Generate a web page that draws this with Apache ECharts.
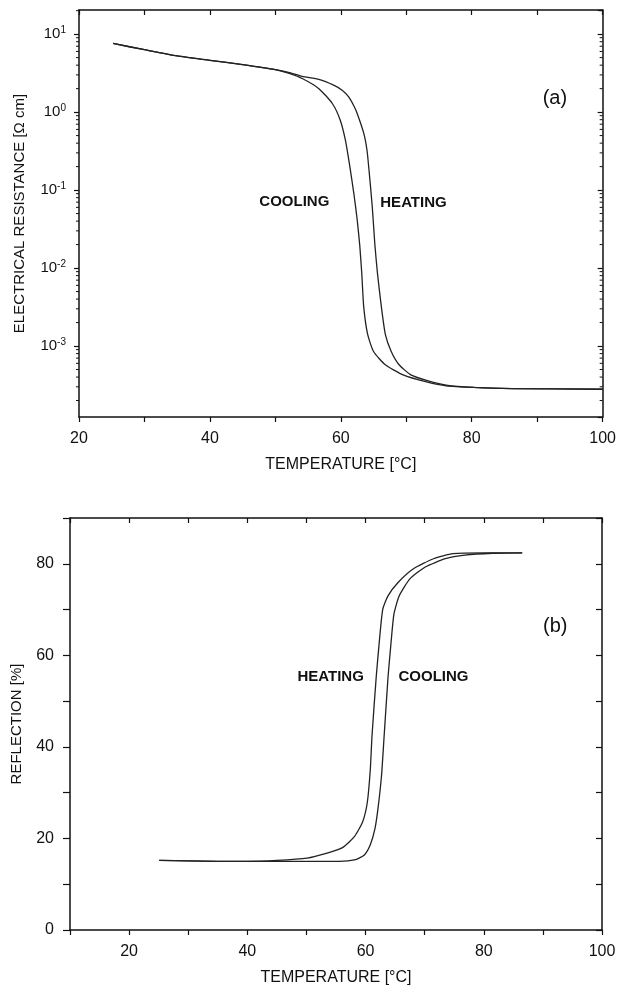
<!DOCTYPE html>
<html>
<head>
<meta charset="utf-8">
<script src="https://cdn.jsdelivr.net/npm/echarts@6/dist/echarts.min.js"></script>
<style>
  html, body { margin: 0; padding: 0; background: #fff; }
  #main { width: 619px; height: 992px; }
</style>
</head>
<body>
<div id="main"></div>
<script>
// (a) electrical resistance vs temperature
var tempCoolA = [25.2, 30, 35, 40, 45, 50, 52, 54.1, 56.65, 58.7, 59.9, 60.7, 61.3, 62.0, 62.5, 62.9, 63.2, 63.5, 64.1, 65.0, 66.8, 69.5, 73.1, 76.1, 80.3, 86.2, 100];
var resCoolA = [7.59, 6.31, 5.25, 4.62, 4.07, 3.51, 3.16, 2.70, 2.00, 1.29, 0.794, 0.437, 0.220, 0.089, 0.0417, 0.0191, 0.00851, 0.00316, 0.00141, 0.000851, 0.000575, 0.000427, 0.000347, 0.000309, 0.000295, 0.000285, 0.000279];
var tempHeatA = [25.2, 30, 35, 40, 45, 50, 52, 54.1, 56.65, 58.9, 60.2, 61.2, 62.0, 62.5, 63.5, 64.0, 64.3, 64.8, 65.2, 65.6, 66.2, 66.8, 67.7, 68.9, 70.7, 73.1, 76.1, 80.3, 86.2, 100];
var resHeatA = [7.59, 6.31, 5.25, 4.62, 4.07, 3.51, 3.24, 2.88, 2.63, 2.22, 1.91, 1.57, 1.20, 0.962, 0.537, 0.324, 0.182, 0.0617, 0.0200, 0.00851, 0.00316, 0.00141, 0.000851, 0.000575, 0.000427, 0.000363, 0.000316, 0.000295, 0.000285, 0.000279];

// (b) reflection vs temperature
var tempHeatB = [25.1, 30, 35, 40, 45, 50.1, 53.5, 56.1, 58.1, 59.5, 60.3, 60.8, 61.1, 61.8, 62.3, 62.9, 63.8, 65.5, 68.1, 71.5, 74.8, 80, 86.5];
var reflHeatB = [15.2, 15.1, 15.0, 15.0, 15.2, 15.7, 16.8, 18.0, 20.4, 23.6, 27.9, 35.0, 42.6, 55.2, 62.6, 70.0, 73.0, 75.9, 78.9, 81.1, 82.2, 82.4, 82.4];
var tempCoolB = [25.1, 30, 35, 40, 45, 50, 55.5, 58.1, 59.8, 60.8, 61.6, 62.1, 62.7, 63.1, 63.8, 64.3, 64.8, 65.7, 67.5, 70.1, 73.5, 76.8, 81.5, 86.5];
var reflCoolB = [15.2, 15.1, 15.0, 15.0, 15.0, 15.0, 15.0, 15.3, 16.4, 18.6, 22.2, 26.5, 33.7, 41.5, 55.2, 62.6, 69.0, 73.0, 76.7, 79.3, 81.1, 81.9, 82.3, 82.4];

// text labels placed in data coordinates
var notesA = [['COOLING', 52.9, 0.070], ['HEATING', 71.1, 0.068], ['(a)', 92.7, 1.51]];
var notesB = [['HEATING', 54.1, 55.2], ['COOLING', 71.5, 55.2], ['(b)', 92.1, 66.3]];

// log minor ticks for the resistance axis
var decadesA = [1e-4, 1e-3, 1e-2, 1e-1, 1, 10];
var minorMult = [2, 3, 4, 5, 6, 7, 8, 9];

var FONT = "'Liberation Sans', Arial, sans-serif";
var INK = '#111';
var CURVE = '#222';

function pairs(xs, ys) {
  return xs.map(function (x, i) { return [x, ys[i]]; });
}

var minorA = [];
decadesA.forEach(function (d) {
  minorMult.forEach(function (m) {
    var v = d * m;
    if (v > 1.23e-4 && v < 20.4) minorA.push([20, v]);
  });
});

var chart = echarts.init(document.getElementById('main'), null, { renderer: 'canvas' });

function lineSeries(xi, yi, data) {
  return {
    type: 'line',
    xAxisIndex: xi,
    yAxisIndex: yi,
    data: data,
    smooth: 0.2,
    showSymbol: false,
    symbol: 'none',
    lineStyle: { color: CURVE, width: 1.3 },
    silent: true,
    z: 3
  };
}

function noteSeries(xi, yi, notes) {
  return {
    type: 'scatter',
    xAxisIndex: xi,
    yAxisIndex: yi,
    symbolSize: 0,
    silent: true,
    itemStyle: { opacity: 1, color: INK },
    data: notes.map(function (n) { return { name: n[0], value: [n[1], n[2]] }; }),
    label: {
      show: true,
      position: 'inside',
      color: INK,
      opacity: 1,
      textBorderWidth: 0,
      formatter: function (p) {
        return p.name.charAt(0) === '(' ? '{p|' + p.name + '}' : '{w|' + p.name + '}';
      },
      rich: {
        w: { fontFamily: FONT, fontWeight: 'bold', fontSize: 15, color: INK, opacity: 1 },
        p: { fontFamily: FONT, fontSize: 20, color: INK, opacity: 1 }
      }
    }
  };
}

var tickX = function (inside, labels, gi, pos, min, lblSize) {
  return {
    type: 'value',
    gridIndex: gi,
    position: pos,
    min: min,
    max: 100,
    interval: 10,
    axisLine: { show: true, onZero: false, lineStyle: { color: INK, width: 1.5 } },
    axisTick: { show: true, inside: inside, length: 5, lineStyle: { color: INK, width: 1.2 } },
    splitLine: { show: false },
    axisLabel: {
      show: labels,
      margin: 14,
      color: INK,
      fontFamily: FONT,
      fontSize: lblSize,
      formatter: function (v) { return v % 20 === 0 ? String(v) : ''; }
    }
  };
};

var option = {
  backgroundColor: '#fff',
  animation: false,
  grid: [
    { left: 79, right: 14, top: 10, bottom: 575 },
    { left: 70, right: 17, top: 518, bottom: 62 }
  ],
  xAxis: [
    Object.assign(tickX(false, true, 0, 'bottom', 20, 16), {
      name: 'TEMPERATURE [°C]', nameLocation: 'middle', nameGap: 40,
      nameTextStyle: { fontFamily: FONT, fontSize: 16, color: INK }
    }),
    tickX(true, false, 0, 'top', 20, 16),
    Object.assign(tickX(false, true, 1, 'bottom', 10, 16), {
      name: 'TEMPERATURE [°C]', nameLocation: 'middle', nameGap: 40,
      nameTextStyle: { fontFamily: FONT, fontSize: 16, color: INK }
    }),
    tickX(true, false, 1, 'top', 10, 16)
  ],
  yAxis: [
    {
      type: 'log', gridIndex: 0, position: 'left', logBase: 10,
      min: 1.23e-4, max: 20.4,
      name: 'ELECTRICAL RESISTANCE [\u03a9 cm]', nameLocation: 'middle', nameGap: 52,
      nameTextStyle: { fontFamily: FONT, fontSize: 15, color: INK },
      axisLine: { show: true, lineStyle: { color: INK, width: 1.5 } },
      axisTick: { show: true, length: 5, lineStyle: { color: INK, width: 1.2 } },
      splitLine: { show: false },
      axisLabel: {
        margin: 13, color: INK, showMinLabel: false, showMaxLabel: false,
        formatter: function (v) {
          var e = Math.round(Math.log(v) / Math.LN10);
          return '{b|10}{s|' + e + '}';
        },
        rich: {
          b: { fontFamily: FONT, fontSize: 15, color: INK },
          s: { fontFamily: FONT, fontSize: 10, color: INK, padding: [0, 0, 8, 0] }
        }
      }
    },
    {
      type: 'log', gridIndex: 0, position: 'right', logBase: 10,
      min: 1.23e-4, max: 20.4,
      axisLine: { show: true, lineStyle: { color: INK, width: 1.5 } },
      axisTick: { show: true, inside: true, length: 5, lineStyle: { color: INK, width: 1.2 } },
      splitLine: { show: false },
      axisLabel: { show: false }
    },
    {
      type: 'value', gridIndex: 1, position: 'left', min: 0, max: 90, interval: 10,
      name: 'REFLECTION [%]', nameLocation: 'middle', nameGap: 46,
      nameTextStyle: { fontFamily: FONT, fontSize: 15, color: INK },
      axisLine: { show: true, lineStyle: { color: INK, width: 1.5 } },
      axisTick: { show: true, length: 7, lineStyle: { color: INK, width: 1.2 } },
      splitLine: { show: false },
      axisLabel: {
        margin: 16, color: INK, fontFamily: FONT, fontSize: 16,
        formatter: function (v) { return v % 20 === 0 ? String(v) : ''; }
      }
    },
    {
      type: 'value', gridIndex: 1, position: 'right', min: 0, max: 90, interval: 10,
      axisLine: { show: true, lineStyle: { color: INK, width: 1.5 } },
      axisTick: { show: true, inside: true, length: 6, lineStyle: { color: INK, width: 1.2 } },
      splitLine: { show: false },
      axisLabel: { show: false }
    }
  ],
  series: [
    lineSeries(0, 0, pairs(tempCoolA, resCoolA)),
    lineSeries(0, 0, pairs(tempHeatA, resHeatA)),
    lineSeries(2, 2, pairs(tempHeatB, reflHeatB)),
    lineSeries(2, 2, pairs(tempCoolB, reflCoolB)),
    noteSeries(0, 0, notesA),
    noteSeries(2, 2, notesB),
    {
      // minor log ticks on both sides of panel (a)
      type: 'custom',
      xAxisIndex: 0,
      yAxisIndex: 0,
      silent: true,
      clip: false,
      data: minorA,
      renderItem: function (params, api) {
        var v = api.value(1);
        var pL = api.coord([20, v]);
        var pR = api.coord([100, v]);
        return {
          type: 'group',
          children: [
            { type: 'line', shape: { x1: pL[0] - 3, y1: pL[1], x2: pL[0], y2: pL[1] }, style: { stroke: INK, lineWidth: 1 } },
            { type: 'line', shape: { x1: pR[0], y1: pR[1], x2: pR[0] - 3, y2: pR[1] }, style: { stroke: INK, lineWidth: 1 } }
          ]
        };
      }
    }
  ]
};

chart.setOption(option);
</script>
</body>
</html>
